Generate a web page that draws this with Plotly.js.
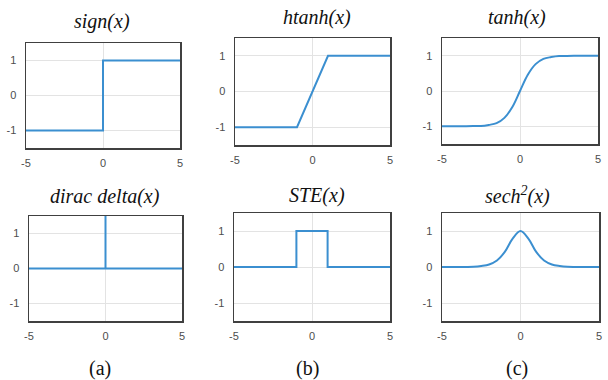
<!DOCTYPE html>
<html>
<head>
<meta charset="utf-8">
<script src="https://cdn.plot.ly/plotly-3.0.1.min.js"></script>
<style>html,body{margin:0;padding:0;background:#fff;}#chart{width:608px;height:380px;}</style>
</head>
<body>
<div id="chart"></div>
<script>
// ---- data ----
const signX = [-5, 0, 0, 5];
const signY = [-1, -1, 1, 1];

const htanhX = [-5, -1, 1, 5];
const htanhY = [-1, -1, 1, 1];

const tanhX = [-5, -4, -3, -2.5, -2, -1.5, -1, -0.5, 0, 0.5, 1, 1.5, 2, 2.5, 3, 4, 5];
const tanhY = [-1, -1, -0.99, -0.99, -0.96, -0.91, -0.76, -0.46, 0, 0.46, 0.76, 0.91, 0.96, 0.99, 0.99, 1, 1];

const diracX = [-5, 0, 0, 0, 5];
const diracY = [0, 0, 1.6, 0, 0];

const steX = [-5, -1, -1, 1, 1, 5];
const steY = [0, 0, 1, 1, 0, 0];

const sech2X = [-5, -4, -3, -2.5, -2, -1.5, -1, -0.5, 0, 0.5, 1, 1.5, 2, 2.5, 3, 4, 5];
const sech2Y = [0, 0, 0.01, 0.03, 0.07, 0.18, 0.42, 0.79, 1, 0.79, 0.42, 0.18, 0.07, 0.03, 0.01, 0, 0];

const titles = ['sign(x)', 'htanh(x)', 'tanh(x)', 'dirac delta(x)', 'STE(x)', 'sech<sup>2</sup>(x)'];
const panelLabels = ['(a)', '(b)', '(c)'];
const xTicks = [-5, 0, 5];
const yTicks = [-1, 0, 1];

// ---- layout ----
const W = 608, H = 380;
const boxes = [ // [left, right, top, bottom] in px
  [26, 180, 43, 148],
  [235, 390, 38, 145],
  [442, 598, 38, 144],
  [29, 182, 216, 321],
  [234, 390, 213, 321],
  [442, 599, 213, 321]
];
const titlePos = [[102, 22], [317, 17], [517, 17], [105, 197], [317, 195], [517, 195]];
const labelPos = [[100, 368], [307, 368], [517, 368]];

const lineColor = '#3b8fd0';
const series = [[signX, signY, 'linear'], [htanhX, htanhY, 'linear'], [tanhX, tanhY, 'spline'],
                [diracX, diracY, 'linear'], [steX, steY, 'linear'], [sech2X, sech2Y, 'spline']];

const data = series.map((s, i) => ({
  x: s[0], y: s[1], type: 'scatter', mode: 'lines',
  line: {color: lineColor, width: 2, shape: s[2]},
  xaxis: 'x' + (i ? i + 1 : ''), yaxis: 'y' + (i ? i + 1 : ''),
  showlegend: false, hoverinfo: 'skip'
}));

const layout = {
  width: W, height: H,
  margin: {l: 0, r: 0, t: 0, b: 0},
  paper_bgcolor: '#fff', plot_bgcolor: '#fff',
  showlegend: false,
  annotations: []
};

const tickFont = {family: 'Liberation Sans', size: 11, color: '#4d4d4d'};
boxes.forEach((b, i) => {
  const sfx = i ? i + 1 : '';
  layout['xaxis' + sfx] = {
    domain: [b[0] / W, b[1] / W], range: [-5, 5], anchor: 'y' + sfx,
    tickvals: xTicks, ticktext: xTicks.map(String), ticks: '',
    showgrid: true, gridcolor: '#e3e3e3', gridwidth: 1, zeroline: false,
    showline: true, mirror: true, linecolor: '#404040', linewidth: 1.5,
    tickfont: tickFont, ticklabelstandoff: 4, fixedrange: true
  };
  layout['yaxis' + sfx] = {
    domain: [1 - b[3] / H, 1 - b[2] / H], range: [-1.5, 1.5], anchor: 'x' + sfx,
    tickvals: yTicks, ticktext: yTicks.map(String), ticks: '',
    showgrid: true, gridcolor: '#e3e3e3', gridwidth: 1, zeroline: false,
    showline: true, mirror: true, linecolor: '#404040', linewidth: 1.5,
    tickfont: tickFont, ticklabelstandoff: 6, fixedrange: true
  };
  layout.annotations.push({
    text: titles[i], xref: 'paper', yref: 'paper',
    x: titlePos[i][0] / W, y: 1 - titlePos[i][1] / H,
    xanchor: 'center', yanchor: 'middle', showarrow: false,
    font: {family: 'Liberation Serif', size: 20, color: '#111', style: 'italic'}
  });
});
panelLabels.forEach((t, i) => {
  layout.annotations.push({
    text: t, xref: 'paper', yref: 'paper',
    x: labelPos[i][0] / W, y: 1 - labelPos[i][1] / H,
    xanchor: 'center', yanchor: 'middle', showarrow: false,
    font: {family: 'Liberation Serif', size: 20, color: '#111'}
  });
});

Plotly.newPlot('chart', data, layout, {displayModeBar: false, staticPlot: true});
</script>
</body>
</html>
